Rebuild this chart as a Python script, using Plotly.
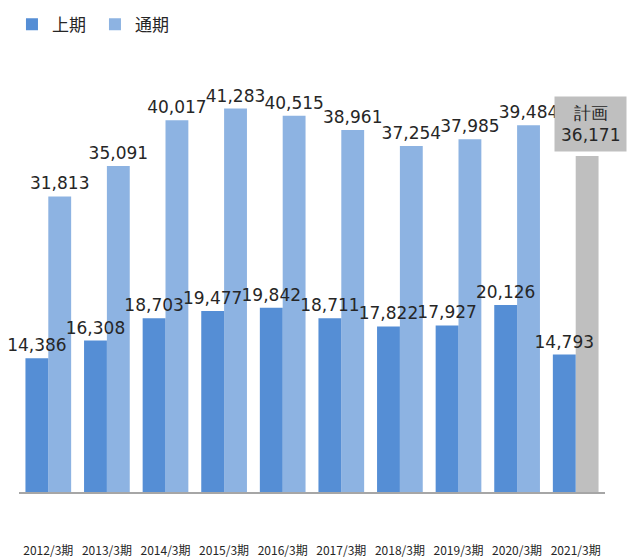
import plotly.graph_objects as go

categories = ["2012/3期", "2013/3期", "2014/3期", "2015/3期", "2016/3期",
              "2017/3期", "2018/3期", "2019/3期", "2020/3期", "2021/3期"]
first_half = [14386, 16308, 18703, 19477, 19842, 18711, 17822, 17927, 20126, 14793]
full_year = [31813, 35091, 40017, 41283, 40515, 38961, 37254, 37985, 39484, 36171]
plan_label = "計画<br>36,171"

DARK = "#558ED5"
LIGHT = "#8DB3E2"
GRAY = "#BFBFBF"
LABEL_FONT = dict(family="DejaVu Sans", size=17, color="#262626")
BAR_W = 0.39

full_colors = [LIGHT] * (len(categories) - 1) + [GRAY]
full_text = [f"{v:,}" for v in full_year[:-1]] + [""]

fig = go.Figure()
# 通期 drawn first so 上期 labels sit on top of it
fig.add_trace(go.Bar(
    x=categories, y=full_year, name="通期", marker_color=full_colors,
    marker_line_width=0, width=BAR_W, offset=0,
    text=full_text, textposition="outside",
    textfont=LABEL_FONT, constraintext="none", cliponaxis=False,
))
fig.add_trace(go.Bar(
    x=categories, y=first_half, name="上期", marker_color=DARK,
    marker_line_width=0, width=BAR_W, offset=-BAR_W,
    text=[f"{v:,}" for v in first_half], textposition="outside",
    textfont=LABEL_FONT, constraintext="none", cliponaxis=False,
))

fig.add_annotation(
    x=categories[-1], y=full_year[-1], text=plan_label, showarrow=False,
    xanchor="center", yanchor="bottom", xshift=15, yshift=4,
    bgcolor=GRAY, borderpad=6,
    font=dict(family="DejaVu Sans", size=17, color="#262626"),
)

fig.update_layout(
    width=630, height=559,
    margin=dict(l=19, r=25, t=74, b=67, autoexpand=False),
    plot_bgcolor="white", paper_bgcolor="white",
    barmode="overlay",
    showlegend=True,
    legend=dict(orientation="h", x=0.019, xanchor="left", y=0.988, yanchor="top",
                yref="container", xref="container", entrywidth=38,
                font=dict(family="Noto Sans CJK JP", size=17, color="#262626"),
                traceorder="reversed"),
    xaxis=dict(showline=True, linecolor="#A6A6A6", linewidth=1.5, automargin=False,
               range=[-0.5, len(categories) - 0.5],
               ticks="", showgrid=False, ticklabelstandoff=47,
               tickfont=dict(family="Noto Sans CJK JP", size=12, color="#262626")),
    yaxis=dict(range=[0, 45000], visible=False, showgrid=False, automargin=False),
)

fig.write_html("out.html")
